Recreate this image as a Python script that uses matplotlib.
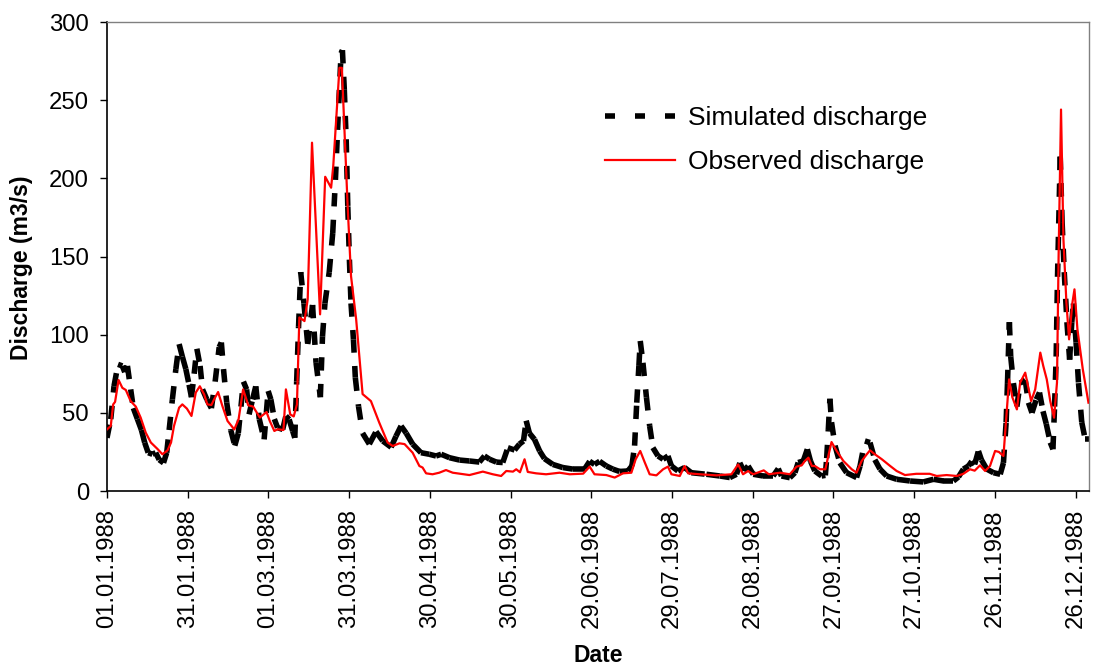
import numpy as np
import matplotlib
matplotlib.use("Agg")
import matplotlib.pyplot as plt
from matplotlib.collections import LineCollection
from matplotlib.lines import Line2D
import datetime as dt

# ---------------- data (day offsets from 01.01.1988, discharge m3/s) ----------------
sim_days = [0, 1.4, 2.6, 4.1, 5.7, 6.6, 7.6, 8.8, 9.8, 11.3, 12.8, 14, 15.3, 16.9, 18.1, 19.4, 21,
            22.2, 23.1, 24.3, 25.6, 26.8, 28, 29.3, 30.5, 31.4, 32.4, 33.4, 34.6, 35.5, 37.1, 38.8,
            40.2, 41.7, 42.5, 43.3, 44.5, 46, 47.5, 48.8, 49.8, 50.7, 51.9, 52.8, 54.1, 55.3, 56.6,
            58.4, 59.9, 60.9, 62.2, 63.4, 65.3, 66.5, 67.7, 69, 69.8, 70.5, 71.2, 72, 73.2, 74.6,
            76.4, 77.7, 79.3, 80.1, 81, 82.6, 83.9, 84.9, 85.7, 87, 87.5, 88.2, 88.9, 89.5, 90.1,
            90.7, 91.6, 92.3, 93.5, 95, 97.5, 100, 102.5, 105.6, 107.4, 109.3, 111.2, 113.6, 116.7,
            119.8, 122.3, 124.2, 127.3, 131, 134.7, 138.4, 140.3, 142.2, 144.7, 147.1, 149, 151.5,
            153.3, 154.8, 155.8, 157, 158.9, 160.8, 162.6, 165.7, 169.4, 173.2, 177.5, 179.4, 181.2,
            183.1, 185.6, 188, 190.5, 193.6, 195.1, 196.1, 196.9, 197.7, 198.2, 199.2, 200.5, 201.7,
            202.9, 204.8, 206.7, 208.5, 209.8, 212.2, 214.7, 217.2, 222.8, 227.8, 231.5, 234, 235.2,
            236.7, 238.3, 240.2, 243.9, 247.6, 249.5, 250.7, 253.8, 255.7, 256.9, 258.8, 260.3,
            261.5, 263.1, 265.6, 267, 267.5, 268.1, 268.7, 269.3, 270.6, 272.4, 274.9, 278.6, 279.9,
            281.7, 283.6, 285.4, 287.3, 289.8, 293.5, 298.5, 303.4, 307.2, 310.9, 314.6, 316.5,
            318.3, 320.2, 321.4, 322.5, 323.9, 325, 327, 329.5, 332, 333.2, 334.2, 334.7, 335.4,
            335.9, 336.9, 338.2, 339.4, 341.3, 342.5, 343.8, 345.4, 346.6, 347.9, 349.1, 350.6,
            351.6, 352.2, 352.8, 353.3, 354.3, 355, 355.8, 356.8, 357.8, 358.6, 359.2, 360.2, 361.1,
            362.3, 363.6, 365]
sim_values = [34, 46, 67, 81, 80, 76, 80, 65, 53, 46, 39, 31, 24.5, 23.5, 24.5, 20, 18,
              24.5, 39, 58.6, 78, 94, 86, 78, 68, 60, 75, 91, 80, 65, 58.6, 53,
              70, 92, 95, 78, 56.5, 39, 29, 37, 54, 70, 65, 49, 58.6, 67, 46,
              33, 64, 58.6, 46, 40.5, 39.4, 48, 45.8, 38.4, 34, 70, 105, 140, 120, 94,
              119, 82, 60, 99, 120, 140, 165, 199, 231, 280, 282, 257, 225, 182, 148,
              120, 97, 72.5, 54, 37, 30, 38, 32, 28, 35, 41.6, 37, 30, 24.5,
              23.5, 22.4, 23.5, 21.3, 19.8, 19.2, 18.5, 22.4, 20.3, 18.5, 18.2, 27.7, 26.2,
              30, 32, 45, 37, 33, 25.6, 20.7, 17, 15, 14, 14, 19, 17,
              19, 16, 14, 12.5, 12.8, 16, 29, 56.5, 80, 96, 82, 60, 41.6,
              27.7, 22.4, 20.3, 22.4, 16, 12.8, 15, 11.7, 10.7, 9.6, 8.6, 10.7, 18,
              12.8, 16, 10.7, 9.6, 9.6, 14.3, 9.6, 8.5, 11.7, 18.2, 19.2, 26.7,
              19, 12.8, 9.6, 10, 21, 39, 59, 44, 29, 18, 11.7, 8.6, 16,
              32, 31, 20, 14, 9.6, 7.5, 6.4, 5.8, 7.5, 6.4, 6.4, 9,
              14, 16, 19, 17, 25.6, 20, 14, 11.7, 10.7, 18, 44, 69, 108,
              86, 69, 54, 69, 71, 56.5, 50, 58.6, 63, 51, 43, 31,
              26.7, 54, 86, 137, 214, 172, 140, 108, 84, 108, 120, 95, 69,
              44, 33, 33]

obs_days = [0, 1.4, 2.3, 3, 4.3, 5.7, 7, 8.8, 10.7, 12.5, 14.4, 16.3, 18.7, 20.6, 22.5, 23.8,
            24.9, 26.8, 28, 29.7, 31.4, 33, 34.5, 36.1, 37.3, 38.8, 39.8, 41.3, 42.9, 44.8, 47.3,
            48.9, 50.6, 52.5, 54.3, 56.8, 59.3, 60.5, 62.2, 63.4, 65.6, 66.5, 68.1, 69.4, 70.6,
            71.5, 73.4, 74.6, 76.2, 79.2, 81.1, 83.3, 84.1, 86.4, 87.3, 89.4, 90.7, 92.6, 95, 98.1,
            101.2, 104.3, 106.2, 108.7, 110.6, 113.6, 116.1, 117.3, 118.6, 121, 123.5, 126, 128.5,
            134.7, 139.7, 143.4, 146.5, 148.4, 150.9, 152.1, 153.5, 155.2, 156.4, 159.5, 163.2,
            168.2, 172, 177, 179.4, 181.2, 185.6, 188.7, 191.8, 194.9, 196.5, 198.2, 199.9, 201.7,
            204.2, 206.7, 208.5, 209.8, 212.9, 214.7, 216, 220.3, 226.5, 232.1, 234.6, 236.4,
            238.3, 240.2, 244.1, 246, 250.1, 253.8, 256.3, 258.2, 259.4, 260.7, 262, 263.1, 265,
            267, 268.1, 269.3, 271.2, 273.7, 276.8, 278.6, 280.5, 282.4, 283.6, 285.4, 288, 291.1,
            293.5, 296.6, 300.8, 305.8, 308.4, 312.1, 315.9, 318.3, 320.8, 322.5, 324.5, 326.4,
            328.2, 330.1, 331.5, 333.2, 335.3, 336.5, 338.2, 339.4, 341.3, 343.5, 345, 346.9, 348,
            349.3, 350.6, 352, 353.1, 353.7, 354.6, 355.5, 356.6, 357.6, 358.8, 359.6, 360.7,
            362.7, 364.8]
obs_values = [39.4, 41.6, 55.4, 57, 71, 66, 64.6, 57.5, 54, 47, 37.3, 31, 27, 23.5, 26, 31,
              41.6, 53.3, 55.4, 52.7, 48, 63, 67, 61.8, 55.4, 55, 58.6, 63.3, 54.3, 44.8, 39.4,
              45.8, 65, 54.8, 54, 47, 50.5, 44.8, 38.4, 39.5, 39, 65, 49, 47.7, 55.4,
              111, 108.7, 122.6, 222.8, 113, 201, 194, 208, 270.7, 270.7, 184, 137.5, 110, 62, 57.5,
              43.7, 31, 28.8, 30.5, 30, 24.5, 16, 15, 11.3, 10.7, 11.7, 13.4, 11.7,
              10.2, 12.4, 10.7, 9.6, 12.8, 12.4, 13.9, 12, 20.3, 12.2, 11.3, 10.7,
              11.7, 10.7, 11.1, 15.6, 10.7, 10.2, 8.6, 11.3, 11.7, 20.3, 25.6, 18.2, 10.7,
              10, 13.9, 15.6, 10.7, 9.6, 16, 11.3, 10.7, 10, 10.7, 17, 10.7,
              12.8, 10.7, 13.2, 10.7, 11.7, 10.7, 15.6, 16.4, 19.2, 21.3, 16, 16, 13.9,
              13.9, 22.4, 31.3, 25.6, 19.2, 13.9, 11.7, 19.2, 23.5, 26, 23.5, 20.3, 16,
              12.8, 10.2, 11, 11, 9.6, 10.2, 9.6, 11, 13.9, 13, 16.4, 12.8,
              16, 25.6, 25, 22.4, 71.4, 60, 52.2, 69.3, 75.7, 57.5, 65, 88.5, 80,
              71.4, 57.5, 46.9, 69.3, 150, 244, 161, 120.5, 97, 120, 129, 103.4,
              77.8, 56.5]

tick_days = list(range(0, 361, 30))
tick_labels = [(dt.date(1988, 1, 1) + dt.timedelta(days=d)).strftime("%d.%m.%Y") for d in tick_days]
y_ticks = [0, 50, 100, 150, 200, 250, 300]

# ---------------- figure ----------------
plt.rcParams['font.family'] = ['Liberation Sans', 'DejaVu Sans']
FS = 16.5
FS_TICK = 17.2
FS_LEG = 19
fig = plt.figure(figsize=(10.93, 6.68), dpi=100)
ax = fig.add_axes([107 / 1093, 1 - 491 / 668, (1089 - 107) / 1093, (491 - 22) / 668])

# simulated: each segment dashed separately (pattern restarts at each point)
sx = np.asarray(sim_days, float)
sy = np.asarray(sim_values, float)
segs = np.stack([np.column_stack([sx[:-1], sy[:-1]]), np.column_stack([sx[1:], sy[1:]])], axis=1)
lc = LineCollection(segs, colors='black', linewidths=4.0, linestyles=[(0, (2.4, 2.4))],
                    capstyle='butt', joinstyle='miter', zorder=2)
ax.add_collection(lc)

ax.plot(obs_days, obs_values, color='#ff0000', lw=1.6, zorder=3)

ax.set_xlim(0, 365)
ax.set_ylim(0, 300)
ax.set_xticks(tick_days)
ax.set_xticklabels(tick_labels, rotation=90, fontsize=FS_TICK, va='top', ha='center')
ax.set_yticks(y_ticks)
ax.set_yticklabels([str(v) for v in y_ticks], fontsize=FS_TICK)
ax.tick_params(axis='both', direction='out', length=5, width=1, colors='black')
ax.tick_params(axis='x', pad=8)
ax.tick_params(axis='y', pad=8)

for side in ('top', 'right'):
    ax.spines[side].set_color('#808080')
    ax.spines[side].set_linewidth(1)
for side in ('left', 'bottom'):
    ax.spines[side].set_color('black')
    ax.spines[side].set_linewidth(1.2)

fig.text(22 / 1093, 1 - 268 / 668, 'Discharge (m3/s)', rotation=90, fontsize=FS,
         fontweight='bold', ha='center', va='center')
fig.text(598 / 1093, 1 - 655 / 668, 'Date', fontsize=FS, fontweight='bold',
         ha='center', va='center')

h_sim = Line2D([], [], color='black', lw=4.0, linestyle=(0, (1.8, 3.6)), dash_capstyle='butt')
h_obs = Line2D([], [], color='#ff0000', lw=1.6)
fig.legend([h_sim, h_obs], ['Simulated discharge', 'Observed discharge'],
           loc='upper left', bbox_to_anchor=(605 / 1093, 1 - 106 / 668),
           frameon=False, fontsize=FS_LEG, handlelength=2.65, handletextpad=0.5,
           labelspacing=0.75, borderpad=0, borderaxespad=0)

fig.savefig('out.png', dpi=100)
